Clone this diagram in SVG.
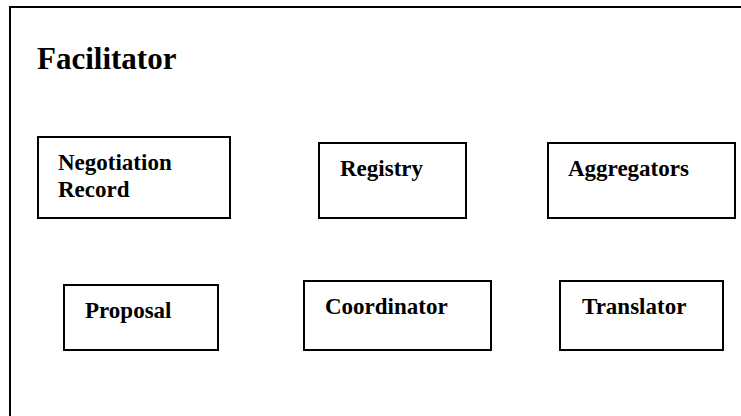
<svg xmlns="http://www.w3.org/2000/svg" width="741" height="416" viewBox="0 0 741 416">
  <style>
    .frame { fill: none; stroke: #000; stroke-width: 2; }
    .box { fill: #fff; stroke: #000; stroke-width: 2; }
    .label { font-family: "Liberation Serif", "Times New Roman", serif; font-weight: bold; font-size: 23px; fill: #000; }
    .title { font-family: "Liberation Serif", "Times New Roman", serif; font-weight: bold; font-size: 31px; fill: #000; }
  </style>
  <rect width="741" height="416" fill="#fff"/>

  <!-- outer Facilitator container (extends past the right and bottom edges) -->
  <g id="facilitator">
    <rect class="frame" x="10" y="7" width="760" height="440"/>
    <text class="title" x="37" y="69">Facilitator</text>
  </g>

  <g id="negotiation-record">
    <rect class="box" x="38" y="137" width="192" height="81"/>
    <text class="label" x="58" y="170">Negotiation</text>
    <text class="label" x="58" y="197">Record</text>
  </g>

  <g id="registry">
    <rect class="box" x="319" y="143" width="147" height="75"/>
    <text class="label" x="340" y="176">Registry</text>
  </g>

  <g id="aggregators">
    <rect class="box" x="548" y="143" width="187" height="75"/>
    <text class="label" x="568" y="176">Aggregators</text>
  </g>

  <g id="proposal">
    <rect class="box" x="64" y="285" width="154" height="65"/>
    <text class="label" x="85" y="318">Proposal</text>
  </g>

  <g id="coordinator">
    <rect class="box" x="304" y="281" width="187" height="69"/>
    <text class="label" x="325" y="314">Coordinator</text>
  </g>

  <g id="translator">
    <rect class="box" x="560" y="281" width="163" height="69"/>
    <text class="label" x="582" y="314">Translator</text>
  </g>

  <g id="connectors"></g>
</svg>
